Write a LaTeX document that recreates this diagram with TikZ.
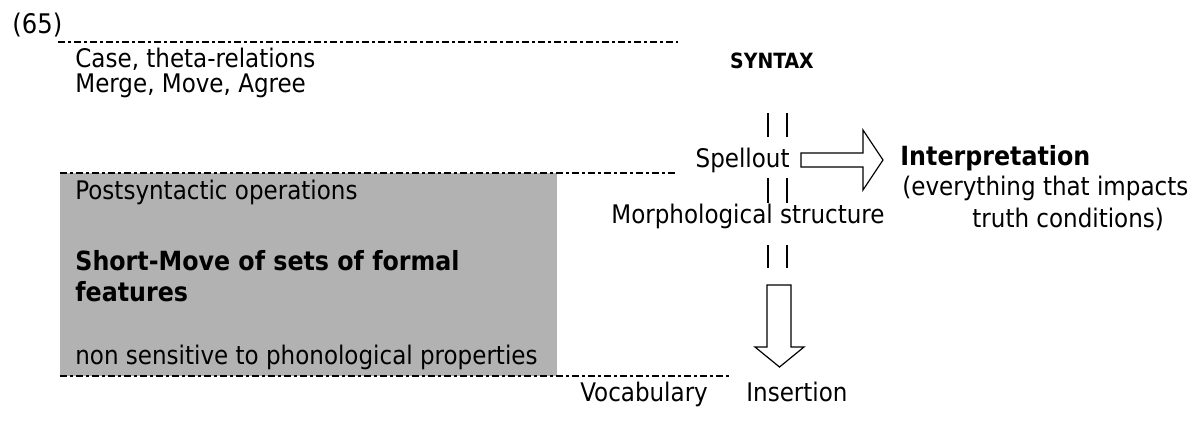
\documentclass[tikz,border=0pt]{standalone}
\usepackage{fontspec}
\setmainfont{DejaVu Sans Condensed}

\tikzset{
  txt/.style={anchor=base west, inner sep=0pt, font=\fontsize{12.8}{15}\selectfont},
  bld/.style={txt, font=\fontsize{13.2}{16}\selectfont\bfseries},
  level/.style={line width=1pt, dash pattern=on 3.5pt off 1.5pt on 1.5pt off 1.5pt},
  bar/.style={line width=0.7pt},
  hollow/.style={draw, fill=white, line width=0.6pt, line join=miter}
}

\begin{document}
\begin{tikzpicture}[x=0.5pt, y=-0.5pt]
\def \bl {768}  % left bar
\def \br {787}  % right bar
\useasboundingbox (0,0) rectangle (1195,435);

% gray block of postsyntactic operations
\fill[black!30] (60,173) rectangle (557,376);

% the three levels
\draw[level] (58,42) -- (678,42);
\draw[level] (60,173) -- (678,173);
\draw[level, line width=1.3pt] (60,376) -- (731,376);

\node[txt, font=\fontsize{13.5}{15}\selectfont] (num) at (12,33) {(65)};
\node[txt] (case) at (75,67) {Case, theta-relations};
\node[txt] (merge) at (75,92) {Merge, Move, Agree};
\node[txt, anchor=base, font=\fontsize{10.5}{12}\selectfont\bfseries] (syntax) at (772,68) {SYNTAX};

\node[txt] (postsyn) at (75,199) {Postsyntactic operations};
\node[bld] (shortmove) at (75,270) {Short-Move of sets of formal};
\node[bld] (features) at (75,301) {features};
\node[txt] (nonsens) at (75,364) {non sensitive to phonological properties};

% the derivation column
\node[txt, anchor=base east] (spell) at (790,167) {Spellout};
\node[txt] (morph) at (611,223) {Morphological structure};
\node[txt] (vocab) at (580,401) {Vocabulary};
\node[txt] (insert) at (746,401) {Insertion};

\node[bld] (interp) at (900,165) {Interpretation};
\node[txt] (impacts) at (902,195) {(everything that impacts};
\node[txt] (truth) at (972,227) {truth conditions)};

\foreach \a/\b in {113/137, 178/203, 245/268}
{
  \draw[bar] (\bl,\a) -- (\bl,\b);
  \draw[bar] (\br,\a) -- (\br,\b);
}

% block arrows
\draw[hollow] (801,153) -- (863,153) -- (863,130) -- (883,160)
  -- (863,190) -- (863,167) -- (801,167) -- cycle;
\draw[hollow] (767,285) -- (791,285) -- (791,347) -- (804,347)
  -- (779.5,367) -- (755,347) -- (767,347) -- cycle;
\end{tikzpicture}
\end{document}
